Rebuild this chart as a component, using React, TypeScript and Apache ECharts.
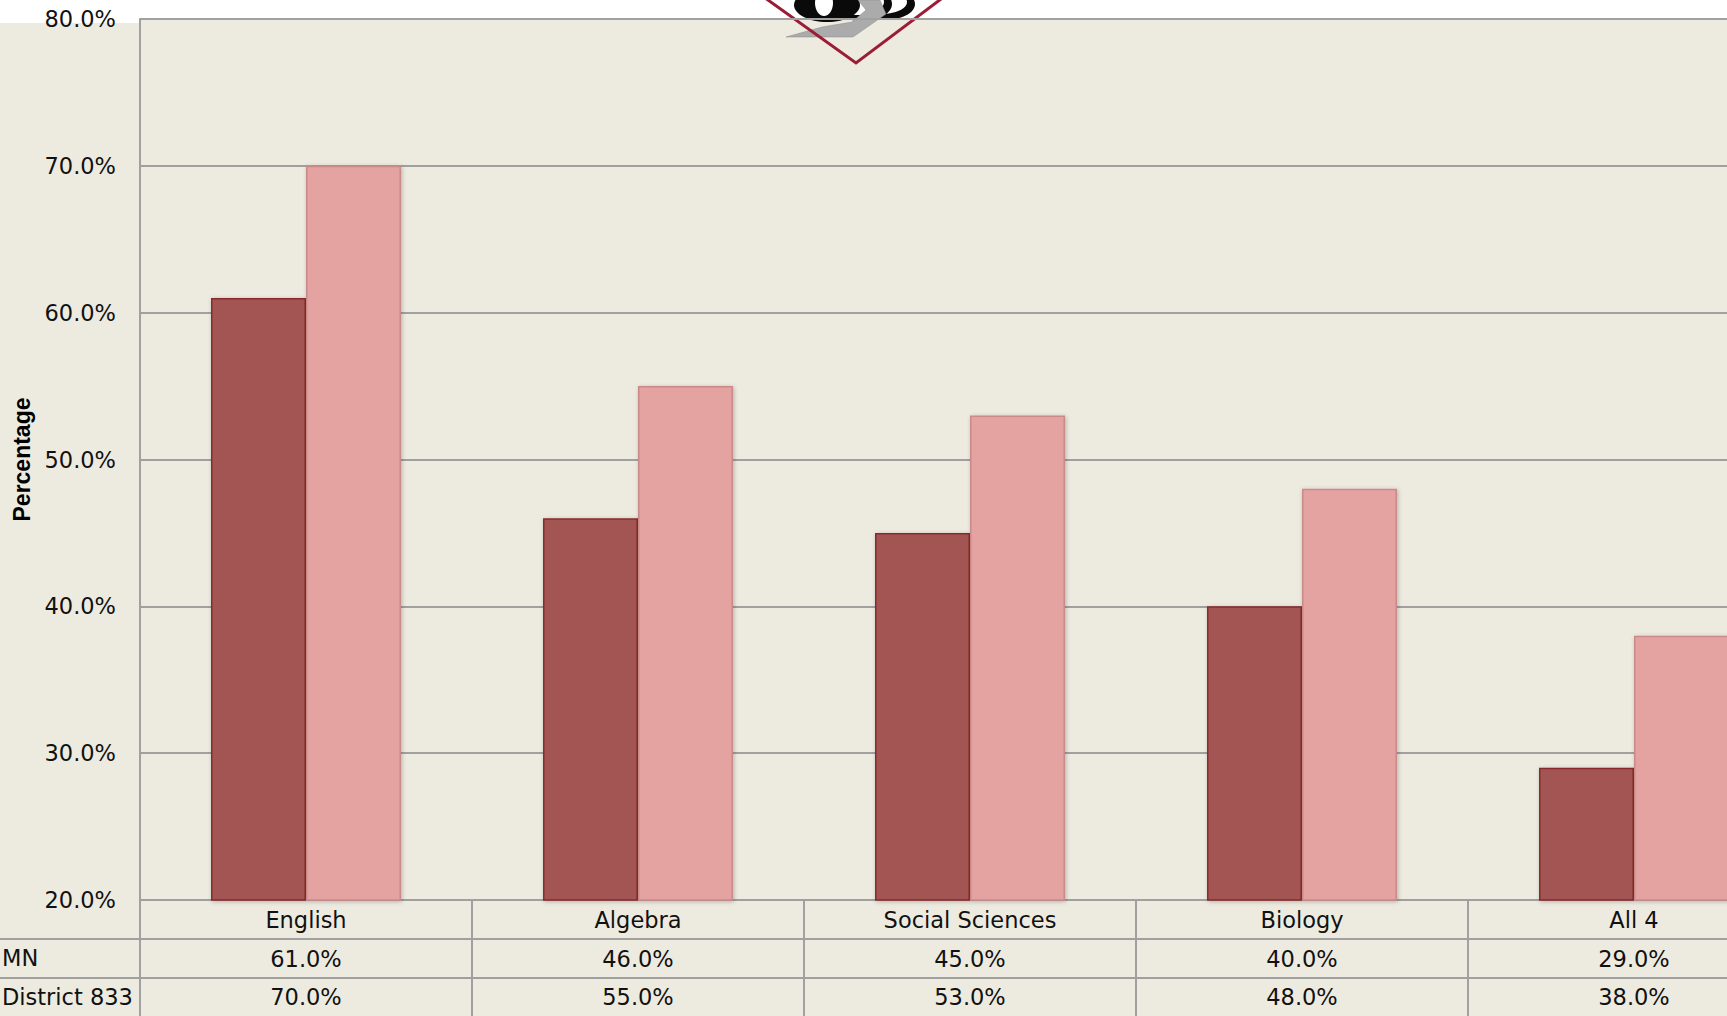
import React, { useEffect, useRef } from "react";
import * as echarts from "echarts";

const categories = ["English", "Algebra", "Social Sciences", "Biology", "All 4"];
const mnValues = [61, 46, 45, 40, 29];
const districtValues = [70, 55, 53, 48, 38];
const seriesNames = ["MN", "District 833"];
const yTicks = { min: 20, max: 80, interval: 10 };

const FONT = "DejaVu Sans";
const GRID_COLOR = "#A0A0A0";
const fmt = (v: number) => v.toFixed(1) + "%";

export default function App() {
  const ref = useRef<HTMLDivElement>(null);
  useEffect(() => {
    if (!ref.current) return;
    const chart = echarts.init(ref.current, undefined, { renderer: "svg" });
    const labelBase = {
      fontFamily: FONT,
      fontSize: 22.5,
      color: "#111",
      margin: 0,
      interval: 0,
    };
    const ringEl = (cx: number, cy: number, rx: number, ry: number, fill: string) => ({
      type: "ellipse",
      z: -1,
      shape: { cx, cy, rx, ry },
      style: { fill },
    });
    chart.setOption({
      animation: false,
      grid: { left: 140, top: 19, width: 1660, height: 881, containLabel: false },
      xAxis: [
        {
          type: "category",
          data: categories,
          position: "bottom",
          boundaryGap: true,
          axisLine: { show: true, lineStyle: { color: GRID_COLOR, width: 2 } },
          axisTick: { show: true, interval: 0, length: 116, alignWithLabel: false, lineStyle: { color: GRID_COLOR, width: 2 } },
          axisLabel: { ...labelBase, lineHeight: 39 },
        },
        {
          type: "category",
          data: mnValues.map(fmt),
          position: "bottom",
          offset: 39,
          axisLine: { show: true, lineStyle: { color: GRID_COLOR, width: 2 } },
          axisTick: { show: false },
          axisLabel: { ...labelBase, lineHeight: 39 },
        },
        {
          type: "category",
          data: districtValues.map(fmt),
          position: "bottom",
          offset: 78,
          axisLine: { show: true, lineStyle: { color: GRID_COLOR, width: 2 } },
          axisTick: { show: false },
          axisLabel: { ...labelBase, lineHeight: 38 },
        },
      ],
      yAxis: {
        type: "value",
        min: yTicks.min,
        max: yTicks.max,
        interval: yTicks.interval,
        name: "Percentage",
        nameLocation: "middle",
        nameRotate: 90,
        nameGap: 106,
        nameTextStyle: { fontFamily: "Liberation Sans", fontWeight: "bold", fontSize: 23, color: "#000" },
        axisLine: { show: true, lineStyle: { color: GRID_COLOR, width: 2 } },
        axisTick: { show: false },
        splitLine: { show: true, lineStyle: { color: GRID_COLOR, width: 2 } },
        axisLabel: { fontFamily: FONT, fontSize: 22.5, color: "#111", margin: 24, formatter: (v: number) => fmt(v) },
      },
      series: [
        {
          name: seriesNames[0],
          type: "bar",
          xAxisIndex: 0,
          data: mnValues,
          barWidth: 95,
          barGap: "0%",
          itemStyle: {
            color: "#A35553",
            borderColor: "#8A2B2B",
            borderWidth: 1.5,
            shadowBlur: 4,
            shadowOffsetX: 1,
            shadowOffsetY: 1,
            shadowColor: "rgba(0,0,0,0.25)",
          },
        },
        {
          name: seriesNames[1],
          type: "bar",
          xAxisIndex: 0,
          data: districtValues,
          barWidth: 95,
          barGap: "0%",
          itemStyle: {
            color: "#E4A2A1",
            borderColor: "#C98A89",
            borderWidth: 1.5,
            shadowBlur: 4,
            shadowOffsetX: 1,
            shadowOffsetY: 1,
            shadowColor: "rgba(0,0,0,0.25)",
          },
        },
      ],
      graphic: {
        elements: [
          { type: "line", shape: { x1: 0, y1: 939, x2: 140, y2: 939 }, style: { stroke: GRID_COLOR, lineWidth: 2 } },
          { type: "line", shape: { x1: 0, y1: 978, x2: 140, y2: 978 }, style: { stroke: GRID_COLOR, lineWidth: 2 } },
          { type: "text", x: 2, y: 958, style: { text: seriesNames[0], fontFamily: FONT, fontSize: 22.5, fill: "#111", verticalAlign: "middle" } },
          { type: "text", x: 2, y: 997, style: { text: seriesNames[1], fontFamily: FONT, fontSize: 22.5, fill: "#111", verticalAlign: "middle" } },
          // logo
          ringEl(885, 4, 30, 16, "#0a0a0a"),
          ringEl(881, 2, 26, 12, "#ffffff"),
          ringEl(862, 4, 30, 17, "#0a0a0a"),
          ringEl(858, 2, 26, 13, "#ffffff"),
          ringEl(827, 5, 33, 17, "#0a0a0a"),
          ringEl(824, 3, 9, 13, "#ffffff"),
          {
            type: "polygon",
            z: -1,
            shape: { points: [[786, 37], [853, 37], [886, 14], [880, 0], [858, 0], [866, 10], [852, 22], [822, 27]] },
            style: { fill: "#ABABAB", stroke: "#8a8a8a", lineWidth: 0.5 },
          },
          {
            type: "polyline",
            z: -1,
            shape: { points: [[754, -10], [856, 63], [953, -10]] },
            style: { stroke: "#9B1D35", lineWidth: 3, fill: "none" },
          },
        ],
      },
    });
    return () => chart.dispose();
  }, []);
  return (
    <div style={{ position: "fixed", left: 0, top: 0, width: 1727, height: 1016, overflow: "hidden", background: "#EDEBE0" }}>
      <div style={{ position: "absolute", left: 0, top: 0, width: 140, height: 23, background: "#fff" }} />
      <div style={{ position: "absolute", left: 140, top: 0, width: 1587, height: 19, background: "#fff" }} />
      <div ref={ref} style={{ position: "absolute", left: 0, top: 0, width: 1830, height: 1016 }} />
    </div>
  );
}
